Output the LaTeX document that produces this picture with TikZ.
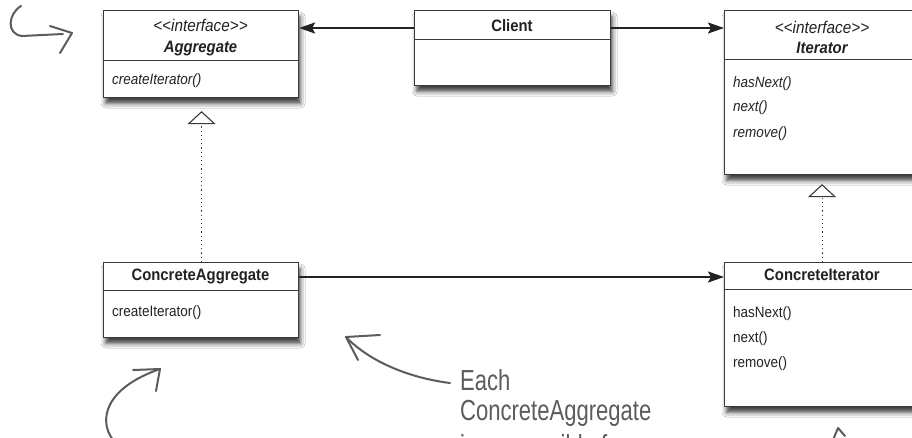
\documentclass[tikz,border=0pt]{standalone}
\usepackage{fontspec}
\setmainfont{Liberation Sans}
\newfontfamily\umlfont[FakeStretch=0.9]{Liberation Sans}
\newfontfamily\handfont[FakeStretch=0.76]{Liberation Sans}
\usetikzlibrary{arrows.meta,shadows.blur}
\definecolor{boxline}{HTML}{3A3A3A}
\definecolor{ink}{HTML}{222222}
\definecolor{hand}{HTML}{5C5C5C}
\tikzset{
  umlbox/.style={draw=boxline, line width=1.1pt, fill=white, anchor=north west,
    inner sep=0pt, minimum width=#1,
    blur shadow={shadow xshift=2pt, shadow yshift=-6pt, shadow blur radius=4.5pt, shadow opacity=75}},
  sepline/.style={draw=boxline, line width=1pt},
  title/.style={font=\umlfont\fontsize{16.5}{18}\selectfont\bfseries, text=ink, anchor=base, inner sep=0pt},
  ititle/.style={font=\umlfont\fontsize{16.5}{18}\selectfont\bfseries\itshape, text=ink, anchor=base, inner sep=0pt},
  stereo/.style={font=\umlfont\fontsize{17}{18}\selectfont\itshape, text=ink, anchor=base, inner sep=0pt},
  meth/.style={font=\umlfont\fontsize{15}{18}\selectfont, text=ink, anchor=base west, inner sep=0pt},
  imeth/.style={font=\umlfont\fontsize{15}{18}\selectfont\itshape, text=ink, anchor=base west, inner sep=0pt},
  assoc/.style={draw=ink, line width=2pt, -{Stealth[length=16pt,width=11pt,inset=3pt]}},
  realize/.style={draw=boxline, line width=1.1pt, dash pattern=on 1.2pt off 3pt,
    -{Triangle[open,length=13pt,width=28pt,line width=1.1pt]}},
  handline/.style={draw=hand, line width=2pt, line cap=round, line join=round},
  handtext/.style={font=\handfont\fontsize{29}{30}\selectfont, text=hand, anchor=base west, inner sep=0pt}
}
\begin{document}
\begin{tikzpicture}[x=1pt,y=-1pt]
\useasboundingbox (0,0) rectangle (912,437);
\fill[white] (0,0) rectangle (912,437);
\clip (0,0) rectangle (912,437);

% boxes
\node[umlbox=195pt, minimum height=87pt] (agg) at (103,10) {};
\node[umlbox=196pt, minimum height=75pt] (client) at (414,10) {};
\node[umlbox=196pt, minimum height=164pt] (iter) at (724,10) {};
\node[umlbox=195pt, minimum height=75pt] (cagg) at (103,262) {};
\node[umlbox=196pt, minimum height=144pt] (citer) at (724,262) {};

% separators
\draw[sepline] (agg.west |- 0,60) -- (agg.east |- 0,60);
\draw[sepline] (client.west |- 0,39) -- (client.east |- 0,39);
\draw[sepline] (iter.west |- 0,59) -- (iter.east |- 0,59);
\draw[sepline] (cagg.west |- 0,290) -- (cagg.east |- 0,290);
\draw[sepline] (citer.west |- 0,289) -- (citer.east |- 0,289);

% texts
\node[stereo] (aggst) at (200.5,31) {<<interface>>};
\node[ititle] (aggt) at (200.5,52) {Aggregate};
\node[imeth] (aggm) at (112,84) {createIterator()};

\node[title] (clit) at (512,31) {Client};

\node[stereo] (iterst) at (822,33) {<<interface>>};
\node[ititle] (itert) at (822,53) {Iterator};
\node[imeth] (iterm1) at (733,87) {hasNext()};
\node[imeth] (iterm2) at (733,111) {next()};
\node[imeth] (iterm3) at (733,137) {remove()};

\node[title] (caggt) at (200.5,280) {ConcreteAggregate};
\node[meth] (caggm) at (112,316) {createIterator()};

\node[title] (citert) at (822,280) {ConcreteIterator};
\node[meth] (citerm1) at (733,317) {hasNext()};
\node[meth] (citerm2) at (733,342) {next()};
\node[meth] (citerm3) at (733,367) {remove()};

% connectors
\draw[assoc] ([yshift=-18pt]client.north west) -- ([yshift=-18pt]agg.north east);
\draw[assoc] ([yshift=-18pt]client.north east) -- ([yshift=-18pt]iter.north west);
\draw[assoc] ([yshift=-15pt]cagg.north east) -- ([yshift=-15pt]citer.north west);
\draw[realize, shorten >=13pt] ([xshift=0.5pt]cagg.north) -- ([xshift=0.5pt]agg.south);
\draw[realize, shorten >=9pt] ([xshift=-0.5pt]citer.north) -- ([xshift=-0.5pt]iter.south);

% handwritten annotations
\draw[handline] (21,6) .. controls (8,14) and (6,34) .. (22,36) -- (63,34);
\draw[handline] (50,26) -- (72,33) -- (60,53);

\draw[handline] (113,440) .. controls (98,420) and (105,388) .. (160,369);
\draw[handline] (133,370) -- (160,369) -- (156,391);

\draw[handline] (450,383) .. controls (410,378) and (370,362) .. (346,337);
\draw[handline] (380,335) -- (346,337) -- (358,360);

\draw[handline] (833,440) -- (838,428) -- (845,436);

\node[handtext] (note1) at (460,390) {Each};
\node[handtext] (note2) at (460,420) {ConcreteAggregate};
\node[handtext] (note3) at (460,455) {is responsible for};
\end{tikzpicture}
\end{document}
